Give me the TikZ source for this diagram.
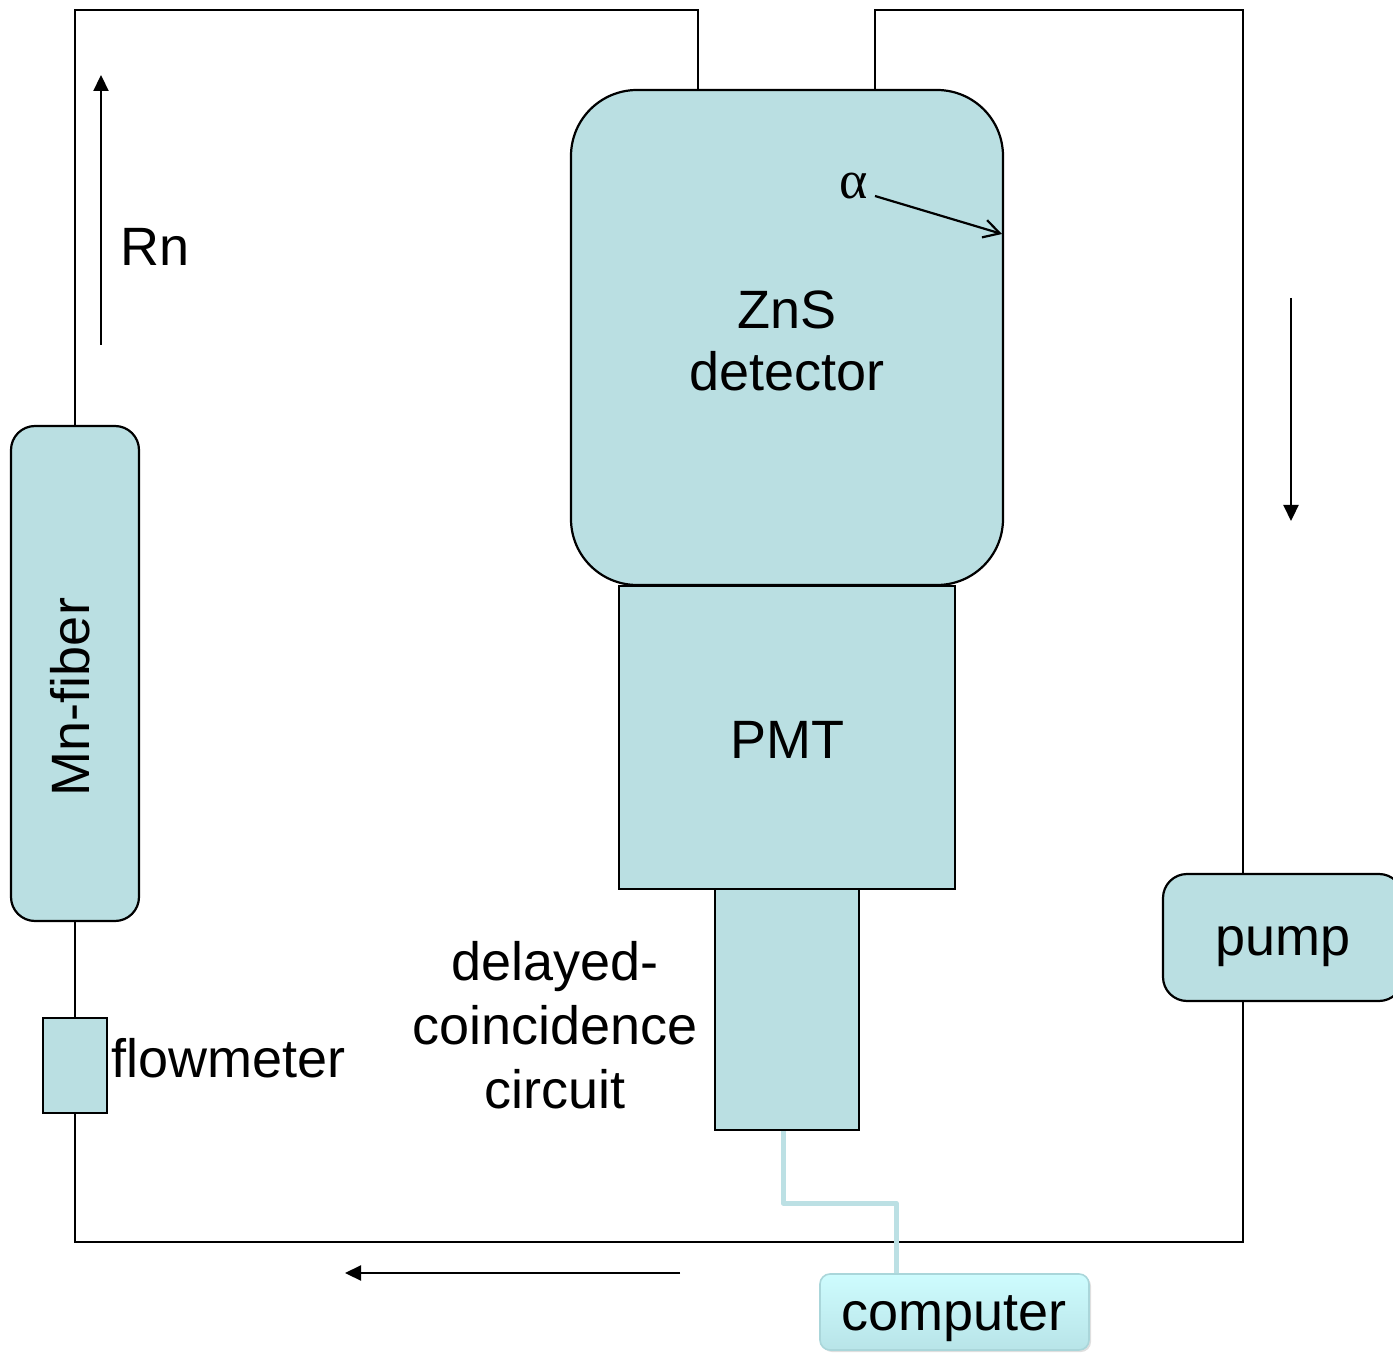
\documentclass[tikz,border=0pt]{standalone}
\usepackage{fontspec}
\setmainfont{Liberation Sans}
\newfontfamily\serifgreek{Liberation Serif}
\usetikzlibrary{arrows.meta,shadows}
\definecolor{boxfill}{RGB}{186,223,226}
\definecolor{cablecol}{RGB}{188,224,228}
\definecolor{comptop}{RGB}{206,252,254}
\definecolor{compbot}{RGB}{184,228,232}
\definecolor{compedge}{RGB}{170,214,218}
\tikzset{
  part/.style={draw=black, line width=1.1pt, fill=boxfill},
  lbl/.style={font=\fontsize{27}{32}\selectfont, inner sep=0pt},
  pipe/.style={line width=1.1pt},
  flow/.style={line width=1.1pt, -{Triangle[length=8pt,width=7.5pt]}},
}
\begin{document}
\begin{tikzpicture}[x=0.5pt,y=-0.5pt]
\useasboundingbox (0,0) rectangle (1393,1353);
% pipe loop
\coordinate (tl) at (75,10);
\coordinate (bl) at (75,1242);
\coordinate (br) at (1243,1242);
\coordinate (tr) at (1243,10);
\coordinate (tm1) at (698,10);
\coordinate (tm2) at (875,10);
\draw[pipe] (698,90) -- (tm1) -- (tl) -- (bl) -- (br) -- (tr) -- (tm2) -- (875,90);
% components
\node[part, rounded corners=33pt, minimum width=216pt, minimum height=247.5pt, inner sep=0pt] (zns) at (787,337.5) {};
\node[lbl, align=center] (znstext) at (787,341) {ZnS\\[-1pt]detector};
\node[part, minimum width=168pt, minimum height=151.5pt, inner sep=0pt] (pmt) at (787,737.5) {};
\node[lbl] at (787,740) {PMT};
\node[part, minimum width=72pt, minimum height=120.5pt, inner sep=0pt] (dcc) at (787,1009.5) {};
\node[lbl, align=center] (dcctext) at (555,1025) {delayed-\\[0pt]coincidence\\[0pt]circuit};
\node[part, rounded corners=12pt, minimum width=64pt, minimum height=247.5pt, inner sep=0pt] (mn) at (75,673.5) {};
\node[lbl, rotate=90] at (70,697) {Mn-fiber};
\node[part, minimum width=32pt, minimum height=47.5pt, inner sep=0pt] (fm) at (75,1065.5) {};
\node[lbl, anchor=west] at (111,1058) {flowmeter};
\node[part, rounded corners=12pt, minimum width=120pt, minimum height=63.5pt, inner sep=0pt] (pump) at (1283,937.5) {};
\node[lbl] at (1283,947) {pump};
% cable to computer
\node[draw=compedge, line width=0.8pt, rounded corners=5pt, top color=comptop, bottom color=compbot,
      minimum width=134.5pt, minimum height=38pt, inner sep=0pt,
      drop shadow={shadow xshift=1pt, shadow yshift=-1pt, opacity=0.25}] (comp) at (954.5,1312) {};
\node[lbl] at (954,1319) {computer};
\coordinate (c1) at (783,1203);
\coordinate (c2) at (896,1203);
\draw[cablecol, line width=2.5pt, line join=round] (dcc.south -| 783,0) -- (c1) -- (c2) -- (comp.north -| 896,0);
% flow arrows
\coordinate (rn1) at (101,345);
\coordinate (rn2) at (101,75);
\draw[flow] (rn1) -- (rn2);
\node[lbl] (rn) at (155,247) {Rn};
\coordinate (ra1) at (1291,298);
\coordinate (ra2) at (1291,521);
\draw[flow] (ra1) -- (ra2);
\coordinate (ba1) at (680,1273);
\coordinate (ba2) at (345,1273);
\draw[flow] (ba1) -- (ba2);
% alpha
\node[inner sep=0pt, font=\serifgreek\fontsize{27}{30}\selectfont] (alpha) at (854,186) {α};
\coordinate (atip) at (1002,234);
\draw[line width=1.1pt, -{Straight Barb[length=8pt,width=9pt]}] (875,196) -- (atip);
\end{tikzpicture}
\end{document}
